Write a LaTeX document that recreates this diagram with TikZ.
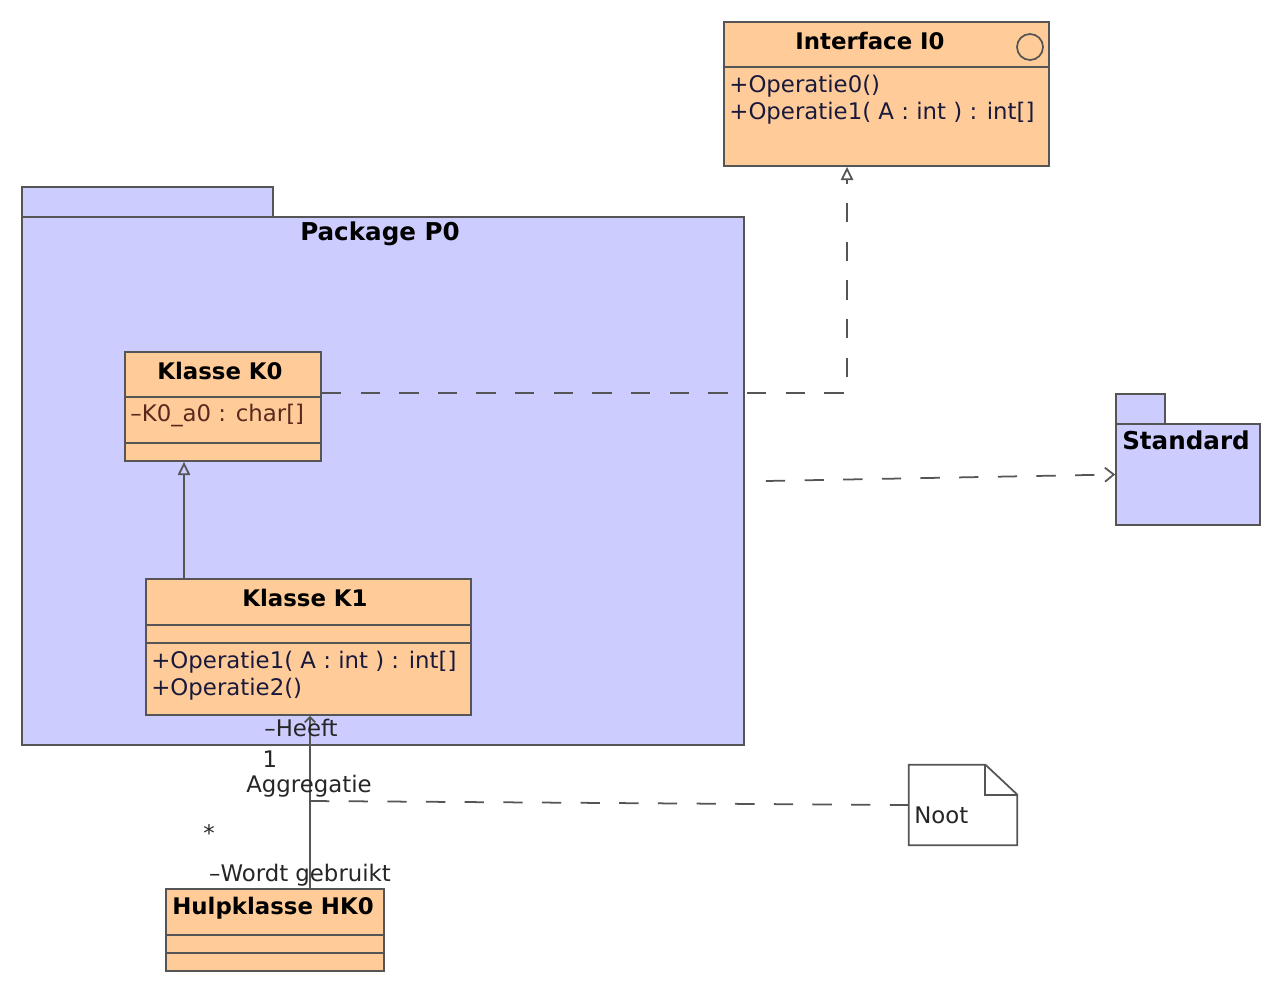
\documentclass[tikz,border=0pt]{standalone}
\usepackage{fontspec}
\setmainfont{DejaVu Sans}
\usepackage{tikz}
\usetikzlibrary{arrows.meta, positioning, fit, calc}
\definecolor{klasse}{RGB}{255,204,153}
\definecolor{pakket}{RGB}{204,204,255}
\definecolor{lijn}{RGB}{85,85,85}
\definecolor{attr}{RGB}{90,40,30}
\definecolor{oper}{RGB}{25,25,60}
\tikzstyle{lijnstijl} = [draw=lijn, line width=1pt]
\tikzstyle{klasbox}   = [rectangle, lijnstijl, fill=klasse, inner sep=0pt]
\tikzstyle{pakbox}    = [rectangle, lijnstijl, fill=pakket, inner sep=0pt]
\tikzstyle{titel}     = [inner sep=0pt, font=\fontsize{13}{15}\selectfont\bfseries]
\tikzstyle{lid}       = [inner sep=0pt, anchor=west, text=oper, font=\fontsize{13}{15}\selectfont]
\tikzstyle{lbl}       = [inner sep=0pt, text=black!85, font=\fontsize{13}{15}\selectfont]
\tikzstyle{stippel}   = [lijnstijl, dash pattern=on 11pt off 11pt]
\tikzstyle{realiseer} = [stippel, -{Triangle[open, length=7.5pt, width=7pt]}]
\tikzstyle{erft}      = [lijnstijl, -{Triangle[open, length=7.5pt, width=7pt]}]
\tikzstyle{gebruikt}  = [stippel, -{Straight Barb[length=5pt, width=8pt]}]
\tikzstyle{assoc}     = [lijnstijl, -{Straight Barb[length=3pt, width=6pt]}]

\begin{document}
\begin{tikzpicture}[x=0.02cm, y=-0.02cm]
    \useasboundingbox (0,0) rectangle (1280,991);

    % interface
    \node[klasbox, fit={(724,22) (1049,166)}] (i0) {};
    \draw[lijnstijl] (i0.west |- 0,67) -- (i0.east |- 0,67);
    \draw[lijnstijl] (1030,47) circle[radius=13];
    \node[titel] (i0t) at (870,41) {Interface I0};
    \node[lid] (i0o0) at (729,86) {+Operatie0()};
    \node[lid] (i0o1) at (729,113) {+Operatie1( A : int ) : int[]};

    % package P0
    \node[pakbox, fit={(22,187) (273,217)}] (p0tab) {};
    \node[pakbox, fit={(22,217) (744,745)}] (p0) {};
    \node[titel, font=\fontsize{14}{16}\selectfont\bfseries] (p0t) at (380,234) {Package P0};

    % Klasse K0
    \node[klasbox, fit={(125,352) (321,461)}] (k0) {};
    \draw[lijnstijl] (k0.west |- 0,397) -- (k0.east |- 0,397);
    \draw[lijnstijl] (k0.west |- 0,443) -- (k0.east |- 0,443);
    \node[titel] (k0t) at (220,371) {Klasse K0};
    \node[lid, text=attr] (k0a0) at (130,416) {–K0\_a0 : char[]};

    % Klasse K1
    \node[klasbox, fit={(146,579) (471,715)}] (k1) {};
    \draw[lijnstijl] (k1.west |- 0,625) -- (k1.east |- 0,625);
    \draw[lijnstijl] (k1.west |- 0,643) -- (k1.east |- 0,643);
    \node[titel] (k1t) at (305,598) {Klasse K1};
    \node[lid] (k1o1) at (151,662) {+Operatie1( A : int ) : int[]};
    \node[lid] (k1o2) at (151,689) {+Operatie2()};

    % Hulpklasse HK0
    \node[klasbox, fit={(166,889) (384,971)}] (hk0) {};
    \draw[lijnstijl] (hk0.west |- 0,935) -- (hk0.east |- 0,935);
    \draw[lijnstijl] (hk0.west |- 0,953) -- (hk0.east |- 0,953);
    \node[titel] (hk0t) at (273,908) {Hulpklasse HK0};

    % package Standard
    \node[pakbox, fit={(1116,394) (1165,424)}] (stdtab) {};
    \node[pakbox, fit={(1116,424) (1260,525)}] (std) {};
    \node[titel, font=\fontsize{14}{16}\selectfont\bfseries] (stdt) at (1186,440) {Standard};

    % noot
    \node[inner sep=0pt, fit={(909,765) (1017,845)}] (noot) {};
    \draw[lijnstijl, fill=white] (noot.north west) -- ($(noot.north east)+(-32,0)$)
        -- ($(noot.north east)+(0,30)$) -- (noot.south east) -- (noot.south west) -- cycle;
    \draw[lijnstijl] ($(noot.north east)+(-32,0)$) -- ($(noot.north east)+(-32,30)$)
        -- ($(noot.north east)+(0,30)$);
    \node[lbl, anchor=west] (noott) at (914,815) {Noot};

    % verbindingen
    \draw[realiseer] (k0.east |- 0,393) -| (847,0 |- i0.south);
    \draw[erft] (184,0 |- k1.north) -- (184,0 |- k0.south);
    \draw[gebruikt] ($(p0.east)+(21,0)$) -- (std.west);
    \draw[assoc] (310,0 |- hk0.north) -- (310,0 |- k1.south);
    \coordinate (aggr) at (310,801);
    \draw[stippel] (aggr) -- (noot.west);

    \node[lbl] (heeft) at (301,728) {–Heeft};
    \node[lbl] (een) at (270,759) {1};
    \node[lbl] (aggrt) at (309,786) {Aggregatie};
    \node[lbl] (veel) at (209,833) {*};
    \node[lbl] (wordt) at (300,875) {–Wordt gebruikt};
\end{tikzpicture}
\end{document}
